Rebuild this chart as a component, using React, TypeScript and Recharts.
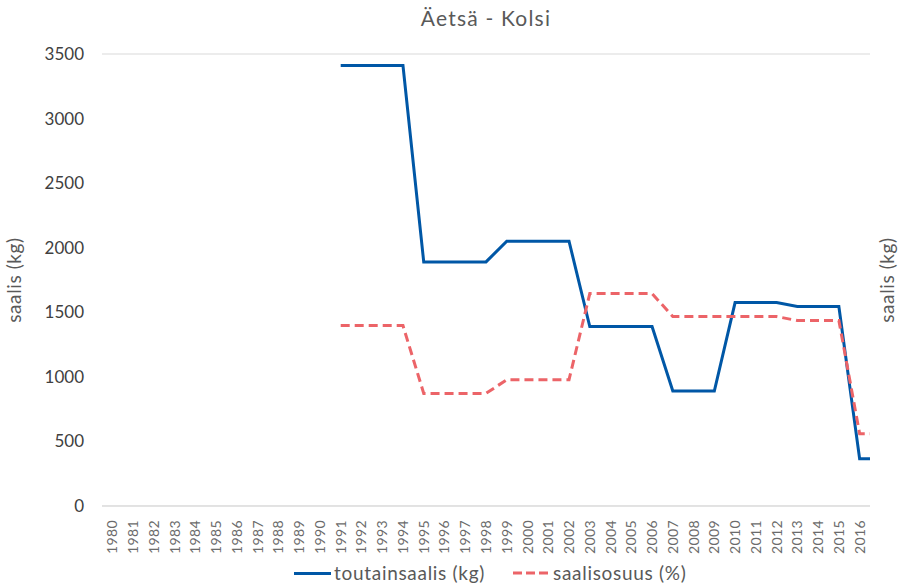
import React from "react";
import { LineChart, Line, XAxis, YAxis, CartesianGrid, Label } from "recharts";

const years: number[] = [];
for (let y = 1980; y <= 2016; y++) years.push(y);

// toutainsaalis (kg), 1991–2016 (the series runs on to the right edge of the plot at 2016.5)
const catchYears = [1991,1992,1993,1994,1995,1996,1997,1998,1999,2000,2001,2002,2003,2004,2005,2006,2007,2008,2009,2010,2011,2012,2013,2014,2015,2016,2016.5];
const catchKg = [3410,3410,3410,3410,1890,1890,1890,1890,2050,2050,2050,2050,1390,1390,1390,1390,890,890,890,1575,1575,1575,1545,1545,1545,366,366];
// saalisosuus (%)
const sharePct = [13.97,13.97,13.97,13.97,8.72,8.72,8.72,8.72,9.78,9.78,9.78,9.78,16.45,16.45,16.45,16.45,14.67,14.67,14.67,14.67,14.67,14.67,14.36,14.36,14.36,5.6,5.6];

const yTicks = [0, 500, 1000, 1500, 2000, 2500, 3000, 3500];

const data = catchYears.map((y, i) => ({
  year: y,
  catchKg: catchKg[i],
  share: sharePct[i],
}));

const FONT = "Lato, 'Noto Sans', sans-serif";
const BLUE = "#0057a6";
const RED = "#ec6468";

const XTick = (props: any) => {
  const { x, y, payload } = props;
  return (
    <text
      x={0}
      y={0}
      transform={`translate(${x + 5},${y + 6}) rotate(-90)`}
      textAnchor="end"
      fontSize={14}
      letterSpacing={0.4}
      fill="#6b6b6b"
      fontFamily={FONT}
    >
      {payload.value}
    </text>
  );
};

export default function App() {
  return (
    <div style={{ position: "absolute", left: 0, top: 0, width: 900, height: 587, background: "#fff", fontFamily: FONT }}>
      <div style={{ position: "absolute", left: 0, top: 5, width: 972, textAlign: "center", fontSize: 21, letterSpacing: 1.2, color: "#595959" }}>
        Äetsä - Kolsi
      </div>
      <LineChart width={900} height={587} data={data} margin={{ top: 54, right: 0, left: 0, bottom: 0 }}>
        <CartesianGrid vertical={false} stroke="#d9d9d9" />
        <XAxis
          dataKey="year"
          type="number"
          domain={[1979.5, 2016.5]}
          ticks={years}
          height={81}
          interval={0}
          tickLine={false}
          axisLine={{ stroke: "#d9d9d9" }}
          tick={<XTick />}
        />
        <YAxis
          yAxisId="left"
          width={102}
          domain={[0, 3500]}
          ticks={yTicks}
          tickLine={false}
          axisLine={false}
          tick={{ fontSize: 17, fill: "#404040", fontFamily: FONT }}
          tickMargin={12}
        >
          <Label value="saalis (kg)" angle={-90} position="insideLeft" offset={14} style={{ fontSize: 19, letterSpacing: 0.6, fill: "#595959", fontFamily: FONT, textAnchor: "middle" }} />
        </YAxis>
        <YAxis
          yAxisId="right"
          orientation="right"
          width={30}
          domain={[0, 35]}
          tick={false}
          tickLine={false}
          axisLine={false}
        >
          <Label value="saalis (kg)" angle={-90} position="center" dx={2} style={{ fontSize: 19, letterSpacing: 0.6, fill: "#595959", fontFamily: FONT, textAnchor: "middle" }} />
        </YAxis>
        <Line
          yAxisId="left"
          dataKey="catchKg"
          name="toutainsaalis (kg)"
          stroke={BLUE}
          strokeWidth={3}
          dot={false}
          type="linear"
          isAnimationActive={false}
        />
        <Line
          yAxisId="right"
          dataKey="share"
          name="saalisosuus (%)"
          stroke={RED}
          strokeWidth={3}
          strokeDasharray="9 5"
          dot={false}
          type="linear"
          isAnimationActive={false}
        />
      </LineChart>
      <div style={{ position: "absolute", top: 561, left: 0, width: 900, height: 24, fontSize: 19, letterSpacing: 0.7, color: "#595959" }}>
        <div style={{ position: "absolute", left: 294, top: 11, width: 37, height: 3, background: BLUE }} />
        <div style={{ position: "absolute", left: 334, top: 0 }}>toutainsaalis (kg)</div>
        <svg style={{ position: "absolute", left: 513, top: 9 }} width={37} height={6}>
          <line x1={0} y1={3} x2={37} y2={3} stroke={RED} strokeWidth={3} strokeDasharray="9 4" />
        </svg>
        <div style={{ position: "absolute", left: 553, top: 0 }}>saalisosuus (%)</div>
      </div>
    </div>
  );
}
